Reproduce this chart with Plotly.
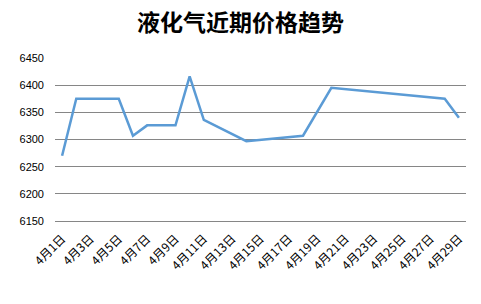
import plotly.graph_objects as go

days = [1, 2, 5, 6, 7, 9, 10, 11, 14, 18, 20, 28, 29]
prices = [6270, 6375, 6375, 6307, 6326, 6326, 6416, 6336, 6297, 6307, 6395, 6375, 6340]
tick_days = list(range(1, 30, 2))
tick_labels = [f"4月{d}日" for d in tick_days]
y_ticks = [6150, 6200, 6250, 6300, 6350, 6400, 6450]

fig = go.Figure()
fig.add_trace(go.Scatter(
    x=days, y=prices, mode="lines",
    line=dict(color="#5B9BD5", width=2.5),
    hoverinfo="skip",
))

fig.update_layout(
    width=481, height=304,
    margin=dict(l=55, r=15, t=58, b=83),
    paper_bgcolor="white", plot_bgcolor="white",
    showlegend=False,
    title=dict(
        text="<b>液化气近期价格趋势</b>",
        x=0.5, xanchor="center", y=0.925, yanchor="middle",
        font=dict(family="Noto Sans CJK SC", size=23, color="#000000"),
    ),
    font=dict(family="Noto Sans CJK SC", size=11, color="#000000"),
)
fig.update_xaxes(
    range=[0.5, 29.5],
    tickmode="array", tickvals=tick_days, ticktext=tick_labels,
    tickangle=-45, showgrid=False, zeroline=False,
    showline=True, linecolor="#868686", linewidth=1,
    ticks="", tickfont=dict(size=12),
    ticklabelstandoff=5,
)
fig.update_yaxes(
    range=[6150, 6450],
    tickmode="array", tickvals=y_ticks,
    showgrid=True, gridcolor="#868686", gridwidth=1,
    zeroline=False, showline=False, ticks="",
    tickfont=dict(family="Liberation Sans", size=11),
    ticklabelstandoff=10,
)

fig.write_html("out.html")
